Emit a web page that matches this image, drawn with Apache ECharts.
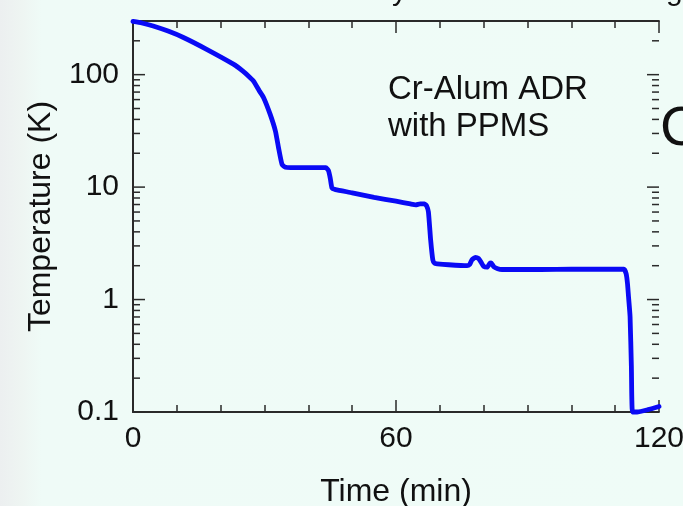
<!DOCTYPE html>
<html><head><meta charset="utf-8">
<script src="https://cdn.jsdelivr.net/npm/echarts@6/dist/echarts.min.js"></script>
<style>
html,body{margin:0;padding:0;overflow:hidden;}
#c{width:683px;height:506px;background:linear-gradient(to right,#eceff0 0px,#eef5f2 22px,#effbf7 42px,#effcf7 100%);}
</style></head><body><div id="c"></div>
<script>
// Time (min)
const timeMin = [0, 2, 4.6, 8, 11.5, 16.8, 22.9, 25, 26.5, 27.5, 28.8, 29.8, 31.3, 32.5, 33.2, 34.0, 34.8, 36, 40, 44.0, 44.6, 45.0, 45.4, 46.2, 50, 55, 60, 63.3, 64.5, 65.5, 66.5, 67.0, 67.4, 67.9, 68.4, 68.8, 69.4, 72, 76.2, 76.8, 77.3, 78.1, 78.8, 79.4, 80, 80.8, 81.4, 81.7, 82.3, 83.2, 84.2, 93, 100, 112, 112.5, 112.8, 113.1, 113.4, 113.7, 113.95, 115, 117.5, 120];
// Temperature (K)
const tempK = [297, 288, 271, 244, 214, 168, 124, 108, 96, 87.7, 72, 62.4, 44.3, 31.4, 22.4, 15.9, 15.0, 14.9, 14.9, 14.9, 14.0, 12.0, 9.8, 9.5, 8.9, 8.1, 7.5, 7.08, 6.95, 7.1, 7.1, 6.8, 6.0, 3.4, 2.25, 2.1, 2.08, 2.04, 2.0, 2.05, 2.25, 2.37, 2.32, 2.15, 1.97, 1.94, 2.1, 2.12, 1.96, 1.88, 1.85, 1.85, 1.86, 1.86, 1.7, 1.4, 1.0, 0.706, 0.253, 0.1, 0.1, 0.105, 0.112];
const yLabelValues = [0.1, 1, 10, 100];
const yMinorTicks = [0.2,0.3,0.4,0.5,0.6,0.7,0.8,0.9, 2,3,4,5,6,7,8,9, 20,30,40,50,60,70,80,90, 200,300];
const annotationLines = ['Cr-Alum ADR', 'with PPMS'];
const xTitle = 'Time (min)';
const yTitle = 'Temperature (K)';

const FONT = '"Liberation Sans", Arial, Helvetica, sans-serif';
const AX = '#2a2a2a';
const chart = echarts.init(document.getElementById('c'), null, {renderer: 'canvas'});

const lineData = timeMin.map((t, i) => [t, tempK[i]]);
const tickData = yLabelValues.map(v => [0, v, 1]).concat(yMinorTicks.map(v => [0, v, 0]));

function fmtY(v) {
  const l = Math.log10(v);
  if (Math.abs(l - Math.round(l)) > 1e-6) return '';
  const r = Math.pow(10, Math.round(l));
  return r < 1 ? r.toFixed(1) : String(Math.round(r));
}

const xBase = {
  type: 'value', min: 0, max: 120, interval: 60,
  axisLine: {show: true, lineStyle: {color: AX, width: 1.8}},
  axisTick: {show: true, inside: true, length: 12, lineStyle: {color: AX, width: 1.5}},
  minorTick: {show: true, splitNumber: 6, length: 7, lineStyle: {color: AX, width: 1.5}},
  splitLine: {show: false}, minorSplitLine: {show: false}
};
const yBase = {
  type: 'log', logBase: 10, min: 0.1, max: 300,
  axisLine: {show: true, lineStyle: {color: AX, width: 1.8}},
  axisTick: {show: false}, splitLine: {show: false}
};

chart.setOption({
  animation: false,
  grid: {left: 133, top: 21, right: 24, bottom: 94, containLabel: false, outerBoundsMode: 'none'},
  xAxis: [
    Object.assign({}, xBase, {
      position: 'bottom',
      axisLabel: {show: true, fontFamily: FONT, fontSize: 30, color: '#111', margin: 12},
      name: xTitle, nameLocation: 'middle', nameGap: 64,
      nameTextStyle: {fontFamily: FONT, fontSize: 32, color: '#111'}
    }),
    Object.assign({}, xBase, {position: 'top', axisLabel: {show: false}})
  ],
  yAxis: [
    Object.assign({}, yBase, {
      position: 'left',
      axisLabel: {show: true, fontFamily: FONT, fontSize: 30, color: '#111', margin: 14, formatter: fmtY},
      name: yTitle, nameLocation: 'middle', nameGap: 76, nameRotate: 90,
      nameTextStyle: {fontFamily: FONT, fontSize: 32, color: '#111'}
    }),
    Object.assign({}, yBase, {position: 'right', axisLabel: {show: false}})
  ],
  series: [
    {
      type: 'custom', xAxisIndex: 0, yAxisIndex: 0, silent: true, clip: false, z: 3,
      data: tickData,
      renderItem: function (params, api) {
        const v = api.value(1), major = api.value(2);
        const len = major ? 12 : 7;
        const pl = api.coord([0, v]);
        const pr = api.coord([120, v]);
        const st = {stroke: AX, lineWidth: 1.5};
        return {type: 'group', children: [
          {type: 'line', shape: {x1: pl[0], y1: pl[1], x2: pl[0] + len, y2: pl[1]}, style: st},
          {type: 'line', shape: {x1: pr[0], y1: pr[1], x2: pr[0] - len, y2: pr[1]}, style: st}
        ]};
      }
    },
    {
      type: 'line', xAxisIndex: 0, yAxisIndex: 0, data: lineData,
      showSymbol: false, symbol: 'none', smooth: 0.15, clip: false, z: 5,
      lineStyle: {color: '#0a0af5', width: 4.8, cap: 'round', join: 'round'}
    }
  ],
  graphic: [
    {type: 'text', x: 388, y: 71, silent: true,
     style: {text: annotationLines.join('\n'), font: '33px ' + FONT, fill: '#111', lineHeight: 37, textVerticalAlign: 'top'}},
    {type: 'text', x: 660, y: 102, silent: true,
     style: {text: 'C', font: '56px ' + FONT, fill: '#111', textVerticalAlign: 'top'}},
    {type: 'text', x: 392, y: 7, silent: true,
     style: {text: 'y', font: '30px ' + FONT, fill: '#111', textVerticalAlign: 'bottom'}},
    {type: 'text', x: 666, y: 7, silent: true,
     style: {text: 'g', font: '30px ' + FONT, fill: '#111', textVerticalAlign: 'bottom'}}
  ]
});
</script></body></html>
